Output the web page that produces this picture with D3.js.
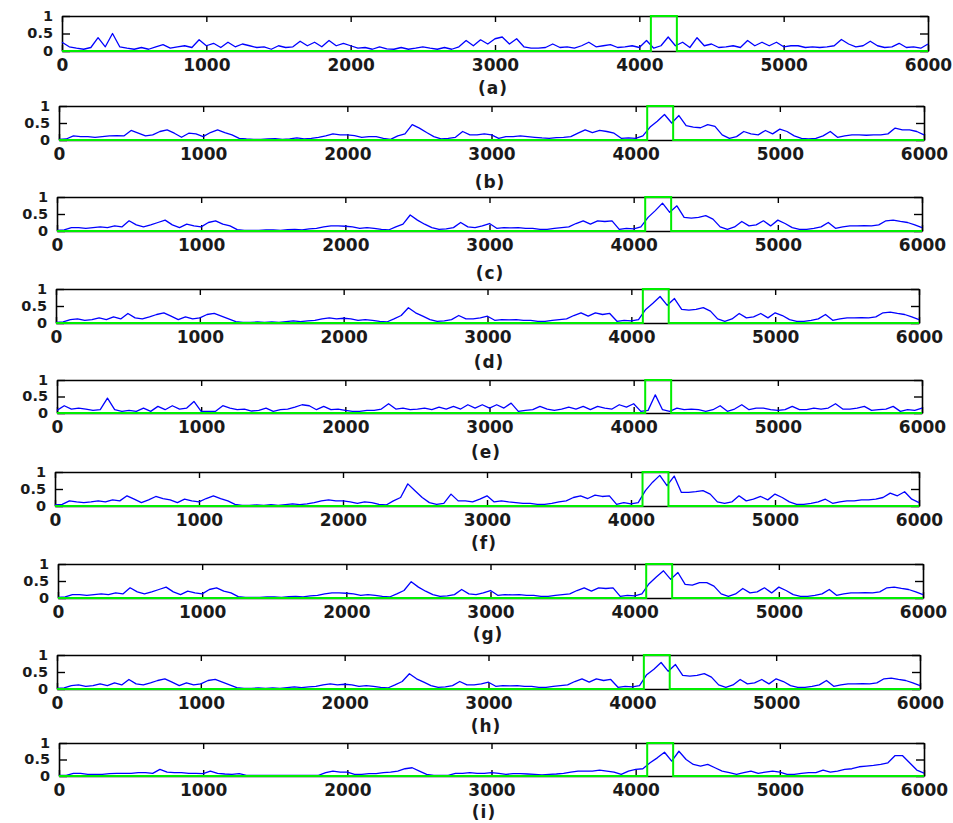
<!DOCTYPE html>
<html>
<head>
<meta charset="utf-8">
<script src="https://cdn.jsdelivr.net/npm/d3@7/dist/d3.min.js"></script>
<style>
  body { margin: 0; background: #fff; }
  svg text { font-family: "DejaVu Sans", Verdana, sans-serif; font-weight: bold; fill: #1a1a1a; }
</style>
</head>
<body>
<div id="chart"></div>
<script>
// x positions of the samples: 0, 50, 100 ... 6000
const sampleStep = 50;
const xTicks = [0, 1000, 2000, 3000, 4000, 5000, 6000];
const yTicks = [0, 0.5, 1];
const panelLabels = ["(a)", "(b)", "(c)", "(d)", "(e)", "(f)", "(g)", "(h)", "(i)"];

// ground truth (green) : 0 everywhere, 1 inside the event window
const truthX = [0, 4080, 4080, 4260, 4260, 6000];
const truthY = [0, 0, 1, 1, 0, 0];

// detector scores, one value per 50 samples (rows of 500)
const seriesA = [
  0.25,0.12,0.08,0.05,0.10,0.38,0.12,0.50,0.12,0.08,
  0.05,0.10,0.05,0.12,0.18,0.08,0.12,0.15,0.10,0.32,
  0.15,0.22,0.10,0.25,0.12,0.20,0.15,0.10,0.12,0.05,
  0.15,0.10,0.12,0.28,0.15,0.25,0.12,0.30,0.15,0.22,
  0.15,0.08,0.10,0.05,0.12,0.06,0.05,0.10,0.05,0.08,
  0.12,0.08,0.05,0.10,0.05,0.12,0.30,0.15,0.32,0.20,
  0.35,0.40,0.20,0.35,0.12,0.08,0.08,0.10,0.20,0.10,
  0.12,0.08,0.15,0.25,0.12,0.15,0.18,0.10,0.12,0.15,
  0.10,0.30,0.08,0.15,0.40,0.15,0.25,0.10,0.38,0.15,
  0.20,0.10,0.12,0.15,0.10,0.30,0.15,0.25,0.15,0.25,
  0.12,0.15,0.15,0.10,0.12,0.10,0.12,0.15,0.33,0.20,
  0.12,0.15,0.28,0.15,0.10,0.12,0.22,0.10,0.12,0.08,
  0.20
];
const seriesB = [
  0.02,0.03,0.12,0.10,0.10,0.08,0.10,0.12,0.13,0.12,
  0.28,0.20,0.12,0.15,0.25,0.30,0.20,0.08,0.20,0.18,
  0.10,0.22,0.30,0.22,0.15,0.05,0.03,0.02,0.02,0.03,
  0.04,0.02,0.03,0.06,0.03,0.05,0.08,0.12,0.18,0.15,
  0.15,0.13,0.08,0.10,0.10,0.05,0.02,0.12,0.18,0.45,
  0.35,0.22,0.10,0.03,0.05,0.08,0.25,0.15,0.15,0.18,
  0.15,0.05,0.10,0.10,0.12,0.10,0.08,0.06,0.05,0.07,
  0.08,0.10,0.20,0.30,0.22,0.28,0.25,0.20,0.05,0.06,
  0.05,0.12,0.38,0.55,0.75,0.50,0.72,0.42,0.38,0.36,
  0.45,0.40,0.15,0.05,0.10,0.25,0.18,0.15,0.28,0.18,
  0.32,0.25,0.12,0.05,0.03,0.05,0.12,0.25,0.08,0.12,
  0.15,0.15,0.14,0.15,0.15,0.18,0.35,0.30,0.30,0.25,
  0.15
];
const seriesC = [
  0.02,0.03,0.10,0.10,0.08,0.10,0.12,0.10,0.15,0.12,
  0.30,0.18,0.12,0.18,0.25,0.32,0.18,0.10,0.20,0.15,
  0.12,0.25,0.30,0.20,0.15,0.04,0.02,0.02,0.02,0.03,
  0.03,0.02,0.04,0.05,0.03,0.06,0.08,0.12,0.15,0.15,
  0.14,0.12,0.08,0.10,0.08,0.05,0.03,0.12,0.20,0.47,
  0.32,0.20,0.10,0.05,0.06,0.10,0.25,0.12,0.10,0.15,
  0.22,0.08,0.10,0.09,0.10,0.08,0.08,0.05,0.05,0.08,
  0.10,0.12,0.22,0.30,0.20,0.30,0.28,0.30,0.05,0.08,
  0.06,0.12,0.40,0.60,0.82,0.55,0.74,0.40,0.38,0.40,
  0.45,0.35,0.12,0.05,0.12,0.28,0.15,0.18,0.30,0.15,
  0.32,0.22,0.10,0.05,0.05,0.08,0.12,0.25,0.08,0.12,
  0.15,0.15,0.16,0.15,0.18,0.30,0.32,0.28,0.25,0.18,
  0.10
];
const seriesD = [
  0.02,0.03,0.10,0.12,0.08,0.10,0.15,0.10,0.18,0.12,
  0.28,0.15,0.12,0.18,0.25,0.30,0.20,0.10,0.18,0.12,
  0.15,0.25,0.28,0.20,0.12,0.04,0.02,0.02,0.03,0.02,
  0.03,0.02,0.04,0.06,0.04,0.06,0.08,0.12,0.15,0.12,
  0.14,0.12,0.08,0.10,0.08,0.05,0.03,0.12,0.22,0.45,
  0.30,0.20,0.10,0.05,0.06,0.10,0.22,0.12,0.12,0.15,
  0.20,0.08,0.10,0.09,0.10,0.08,0.08,0.05,0.05,0.08,
  0.10,0.12,0.22,0.30,0.20,0.30,0.25,0.28,0.05,0.08,
  0.06,0.10,0.40,0.58,0.78,0.52,0.72,0.40,0.38,0.40,
  0.45,0.35,0.12,0.05,0.12,0.28,0.15,0.18,0.28,0.15,
  0.30,0.22,0.10,0.05,0.05,0.08,0.12,0.25,0.08,0.12,
  0.15,0.15,0.16,0.15,0.18,0.30,0.32,0.28,0.25,0.18,
  0.10
];
const seriesE = [
  0.08,0.22,0.12,0.15,0.12,0.08,0.10,0.45,0.10,0.05,
  0.08,0.05,0.15,0.05,0.20,0.10,0.22,0.12,0.15,0.35,
  0.05,0.05,0.05,0.22,0.15,0.10,0.12,0.06,0.08,0.15,
  0.05,0.10,0.12,0.18,0.25,0.22,0.10,0.20,0.10,0.12,
  0.08,0.05,0.05,0.08,0.08,0.12,0.28,0.12,0.15,0.10,
  0.12,0.15,0.10,0.18,0.12,0.20,0.12,0.25,0.15,0.25,
  0.15,0.25,0.15,0.30,0.05,0.08,0.10,0.20,0.12,0.08,
  0.12,0.18,0.12,0.20,0.10,0.20,0.15,0.12,0.25,0.18,
  0.28,0.05,0.08,0.55,0.10,0.05,0.15,0.10,0.12,0.10,
  0.05,0.10,0.22,0.05,0.12,0.25,0.10,0.15,0.15,0.10,
  0.08,0.10,0.20,0.10,0.10,0.15,0.12,0.15,0.28,0.12,
  0.12,0.15,0.20,0.08,0.10,0.12,0.20,0.05,0.10,0.08,
  0.15
];
const seriesF = [
  0.03,0.05,0.15,0.12,0.10,0.12,0.15,0.12,0.18,0.15,
  0.30,0.20,0.10,0.18,0.28,0.22,0.18,0.10,0.20,0.15,
  0.12,0.22,0.30,0.22,0.15,0.05,0.02,0.02,0.03,0.02,
  0.04,0.02,0.04,0.06,0.04,0.06,0.10,0.15,0.18,0.15,
  0.15,0.12,0.08,0.12,0.10,0.05,0.03,0.15,0.25,0.65,
  0.45,0.25,0.10,0.05,0.08,0.35,0.15,0.15,0.12,0.20,
  0.30,0.12,0.15,0.12,0.10,0.08,0.08,0.05,0.05,0.08,
  0.12,0.15,0.25,0.30,0.22,0.32,0.28,0.30,0.05,0.10,
  0.06,0.10,0.45,0.70,0.90,0.60,0.88,0.40,0.40,0.42,
  0.45,0.35,0.12,0.08,0.12,0.30,0.15,0.20,0.28,0.18,
  0.35,0.25,0.12,0.05,0.05,0.08,0.12,0.20,0.08,0.12,
  0.15,0.15,0.18,0.18,0.20,0.25,0.38,0.30,0.42,0.20,
  0.10
];
const seriesG = [
  0.02,0.03,0.10,0.10,0.08,0.10,0.12,0.10,0.15,0.12,
  0.30,0.18,0.12,0.18,0.25,0.32,0.18,0.10,0.20,0.15,
  0.12,0.25,0.30,0.20,0.15,0.04,0.02,0.02,0.02,0.03,
  0.03,0.02,0.04,0.05,0.03,0.06,0.08,0.12,0.15,0.15,
  0.14,0.12,0.08,0.10,0.08,0.05,0.03,0.12,0.22,0.48,
  0.32,0.20,0.10,0.05,0.06,0.10,0.25,0.12,0.10,0.15,
  0.22,0.08,0.10,0.09,0.10,0.08,0.08,0.05,0.05,0.08,
  0.10,0.12,0.22,0.30,0.20,0.30,0.28,0.30,0.05,0.08,
  0.06,0.12,0.42,0.62,0.80,0.55,0.75,0.40,0.38,0.45,
  0.45,0.35,0.12,0.05,0.12,0.28,0.15,0.18,0.30,0.15,
  0.32,0.22,0.10,0.05,0.05,0.08,0.12,0.25,0.08,0.12,
  0.15,0.15,0.16,0.15,0.18,0.30,0.32,0.28,0.25,0.18,
  0.10
];
const seriesH = [
  0.02,0.03,0.10,0.12,0.08,0.10,0.15,0.10,0.18,0.12,
  0.28,0.15,0.12,0.18,0.25,0.30,0.20,0.10,0.18,0.12,
  0.15,0.25,0.28,0.20,0.12,0.04,0.02,0.02,0.03,0.02,
  0.03,0.02,0.04,0.06,0.04,0.06,0.08,0.12,0.15,0.12,
  0.14,0.12,0.08,0.10,0.08,0.05,0.03,0.12,0.22,0.45,
  0.30,0.20,0.10,0.05,0.06,0.10,0.22,0.12,0.12,0.15,
  0.20,0.08,0.10,0.09,0.10,0.08,0.08,0.05,0.05,0.08,
  0.10,0.12,0.22,0.30,0.20,0.30,0.25,0.28,0.05,0.08,
  0.06,0.10,0.42,0.58,0.78,0.52,0.72,0.40,0.38,0.40,
  0.45,0.35,0.12,0.05,0.12,0.28,0.15,0.18,0.28,0.15,
  0.30,0.22,0.10,0.05,0.05,0.08,0.12,0.25,0.08,0.12,
  0.15,0.15,0.16,0.15,0.18,0.30,0.32,0.28,0.25,0.18,
  0.10
];
const seriesI = [
  0.02,0.02,0.08,0.08,0.05,0.05,0.05,0.07,0.08,0.08,
  0.08,0.10,0.10,0.08,0.20,0.12,0.10,0.10,0.08,0.08,
  0.07,0.15,0.08,0.06,0.05,0.07,0.02,0.02,0.02,0.02,
  0.02,0.02,0.02,0.02,0.02,0.02,0.02,0.10,0.15,0.12,
  0.12,0.05,0.05,0.07,0.07,0.10,0.12,0.15,0.22,0.25,
  0.15,0.05,0.02,0.02,0.02,0.08,0.08,0.10,0.08,0.08,
  0.10,0.08,0.05,0.07,0.07,0.06,0.05,0.03,0.05,0.06,
  0.08,0.12,0.15,0.15,0.15,0.18,0.15,0.12,0.05,0.15,
  0.20,0.22,0.40,0.55,0.72,0.45,0.75,0.50,0.35,0.30,
  0.35,0.25,0.15,0.10,0.05,0.10,0.15,0.08,0.12,0.15,
  0.12,0.05,0.05,0.08,0.10,0.10,0.18,0.12,0.15,0.20,
  0.22,0.28,0.30,0.32,0.35,0.40,0.62,0.62,0.40,0.18,
  0.09
];
const allSeries = [seriesA, seriesB, seriesC, seriesD, seriesE, seriesF, seriesG, seriesH, seriesI];

// where each small axes sits on the page (the figure is not perfectly aligned)
const boxes = [
  { left: 62, right: 928, top: 16,  bottom: 51,  labelX: 493, labelY: 94 },
  { left: 59, right: 924, top: 106, bottom: 140, labelX: 490, labelY: 188 },
  { left: 57, right: 922, top: 197, bottom: 231, labelX: 490, labelY: 279 },
  { left: 56, right: 919, top: 289, bottom: 323, labelX: 489, labelY: 368 },
  { left: 57, right: 922, top: 380, bottom: 413, labelX: 486, labelY: 458 },
  { left: 55, right: 919, top: 472, bottom: 506, labelX: 484, labelY: 549 },
  { left: 58, right: 923, top: 564, bottom: 598, labelX: 488, labelY: 640 },
  { left: 57, right: 920, top: 655, bottom: 689, labelX: 486, labelY: 732 },
  { left: 59, right: 924, top: 743, bottom: 776, labelX: 484, labelY: 818 }
];

const svgWidth = 953;
const svgHeight = 823;

const svg = d3.select("#chart")
  .append("svg")
  .attr("width", svgWidth)
  .attr("height", svgHeight);

allSeries.forEach((values, i) => {
  const b = boxes[i];
  const width = b.right - b.left;
  const height = b.bottom - b.top;

  const x = d3.scaleLinear().domain([0, 6000]).range([0, width]);
  const y = d3.scaleLinear().domain([0, 1]).range([height, 0]);

  const g = svg.append("g").attr("transform", `translate(${b.left}, ${b.top})`);

  // axes, ticks pointing inwards like matlab
  const bottomAxis = d3.axisBottom(x).tickValues(xTicks).tickSizeInner(-6).tickSizeOuter(0).tickPadding(8)
    .tickFormat(d3.format("d"));
  const topAxis = d3.axisTop(x).tickValues(xTicks).tickSizeInner(-6).tickSizeOuter(0).tickFormat("");
  const leftAxis = d3.axisLeft(y).tickValues(yTicks).tickSizeInner(-8).tickSizeOuter(0).tickPadding(9)
    .tickFormat(d => d === 0.5 ? "0.5" : d3.format("d")(d));
  const rightAxis = d3.axisRight(y).tickValues(yTicks).tickSizeInner(-8).tickSizeOuter(0).tickFormat("");

  const xAxis = g.append("g").attr("transform", `translate(0, ${height})`).call(bottomAxis);
  const yAxis = g.append("g").call(leftAxis);
  const axes = [
    xAxis,
    g.append("g").call(topAxis),
    yAxis,
    g.append("g").attr("transform", `translate(${width}, 0)`).call(rightAxis)
  ];
  axes.forEach(a => {
    a.select(".domain").attr("stroke", "#000").attr("stroke-width", 1.6);
    a.selectAll(".tick line").attr("stroke", "#000").attr("stroke-width", 1.4);
    a.selectAll("text").attr("fill", "#1a1a1a")
      .attr("font-family", "DejaVu Sans").attr("font-weight", "bold");
  });
  xAxis.selectAll("text").attr("font-size", 17);
  yAxis.selectAll("text").attr("font-size", 14.5).attr("dy", "0.3em");

  // blue score line
  const line = d3.line()
    .x((d, j) => x(j * sampleStep))
    .y(d => y(d));
  g.append("path")
    .datum(values)
    .attr("fill", "none")
    .attr("stroke", "#0000ff")
    .attr("stroke-width", 1.3)
    .attr("stroke-linejoin", "round")
    .attr("d", line);

  // green ground truth on top
  const truthLine = d3.line()
    .x((d, j) => x(truthX[j]))
    .y(d => y(d));
  g.append("path")
    .datum(truthY)
    .attr("fill", "none")
    .attr("stroke", "#00ee00")
    .attr("stroke-width", 2)
    .attr("d", truthLine);

  // panel caption
  svg.append("text")
    .attr("x", b.labelX)
    .attr("y", b.labelY)
    .attr("text-anchor", "middle")
    .attr("font-size", 17)
    .attr("letter-spacing", 1)
    .text(panelLabels[i]);
});
</script>
</body>
</html>
